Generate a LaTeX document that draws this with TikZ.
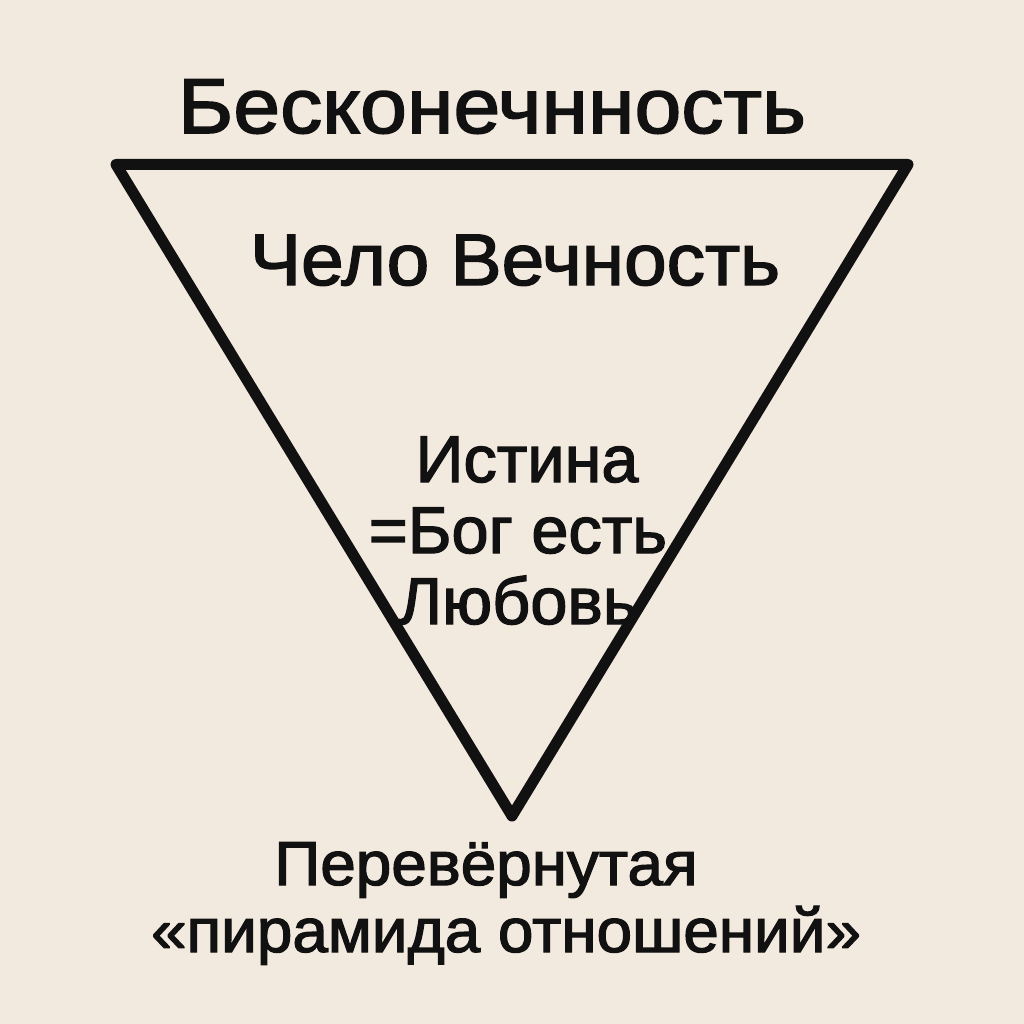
\documentclass[tikz,border=0pt]{standalone}
\usepackage{fontspec}
\setmainfont{Liberation Sans}
\newfontfamily\fonttop[FakeBold=2,FakeStretch=1.08]{Liberation Sans}
\newfontfamily\fontchelo[FakeBold=2,FakeStretch=1.05]{Liberation Sans}
\newfontfamily\fontmid[FakeBold=2,FakeStretch=1.01]{Liberation Sans}
\newfontfamily\fontbot[FakeBold=2,FakeStretch=1.03]{Liberation Sans}
\definecolor{bg}{HTML}{F3EADF}
\definecolor{ink}{HTML}{111111}
\begin{document}
\begin{tikzpicture}[x=1pt,y=-1pt,
  txt/.style={text=ink, inner sep=0pt, anchor=base},
  tri/.style={draw=ink, line width=11pt, line join=round}]
\fill[bg] (0,0) rectangle (1024,1024);
\useasboundingbox (0,0) rectangle (1024,1024);
\node[txt, font=\fonttop\fontsize{78}{80}\selectfont] (top) at (492,133) {Бесконечнность};
\node[txt, font=\fontchelo\fontsize{73}{80}\selectfont] (chelo) at (515,285) {Чело Вечность};
\node[txt, font=\fontmid\fontsize{66}{70}\selectfont] (i1) at (527,482) {Истина};
\node[txt, font=\fontmid\fontsize{66}{70}\selectfont] (i2) at (518,553) {=Бог есть};
\node[txt, font=\fontmid\fontsize{66}{70}\selectfont] (i3) at (518,624) {Любовь};
\coordinate (a) at (116,164.5);
\coordinate (b) at (908,164.5);
\coordinate (c) at (512,816);
\draw[tri] (a) -- (b) -- (c) -- cycle;
\node[txt, font=\fontbot\fontsize{62}{70}\selectfont] (p1) at (486,885) {Перевёрнутая};
\node[txt, font=\fontbot\fontsize{62}{70}\selectfont] (p2) at (506,952) {«пирамида отношений»};
\end{tikzpicture}
\end{document}
